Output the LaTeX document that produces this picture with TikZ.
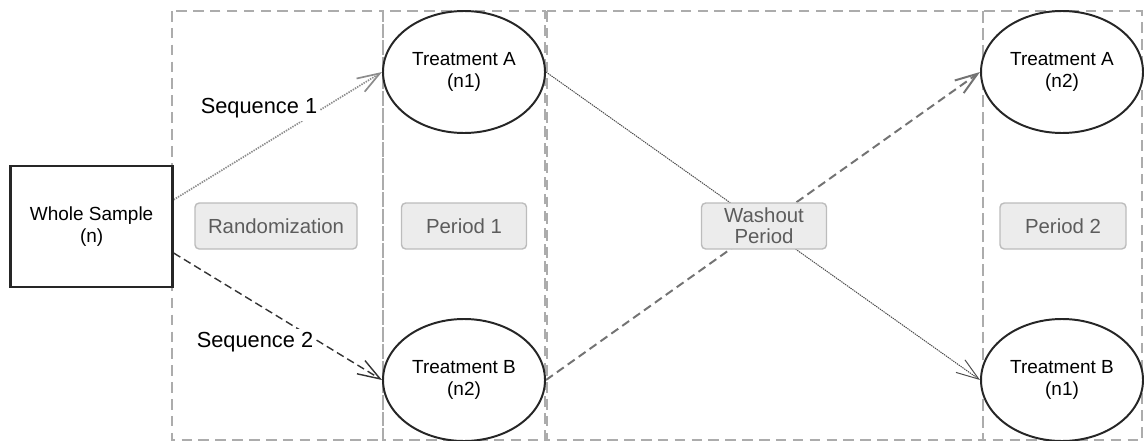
\documentclass[tikz,border=0pt]{standalone}
\usepackage{fontspec}
\setmainfont{Liberation Sans}
\usepackage{tikz}
\usetikzlibrary{positioning,backgrounds,arrows.meta,shapes.geometric}
\pgfdeclarelayer{background}
\pgfsetlayers{background,main}
\usepackage{xcolor}
\definecolor{lanegray}{RGB}{172,172,172}
\definecolor{tagfill}{RGB}{236,236,236}
\definecolor{tagdraw}{RGB}{188,188,188}
\definecolor{tagtext}{RGB}{92,92,92}

\begin{document}
\begin{tikzpicture}[
  every node/.style={font=\fontsize{13.5}{15.5}\selectfont},
  group/.style={draw=black!85, line width=1.6pt, fill=white,
    align=center, inner sep=2pt,
    minimum width=4.05cm, minimum height=3.02cm},
  treat/.style={ellipse, draw=black!85, line width=1.4pt, fill=white,
    align=center, inner sep=0pt,
    minimum width=4.05cm, minimum height=3.05cm},
  tag/.style={draw=tagdraw, fill=tagfill, line width=1pt,
    rounded corners=3pt, text=tagtext, align=center, inner sep=1pt,
    minimum width=3.125cm, minimum height=1.15cm,
    font=\fontsize{14.5}{15}\selectfont},
  seq/.style={fill=white, inner sep=2pt, font=\fontsize{15.5}{17}\selectfont},
  lane/.style={draw=lanegray, line width=1.4pt, dash pattern=on 7.5pt off 4.5pt},
  arr/.style={-{Straight Barb[length=16pt,width=11pt]}},
  seqdot/.style={draw=black!45, line width=1.2pt, dash pattern=on 1pt off 0.8pt},
  seqdash/.style={draw=black!80, line width=1pt, dash pattern=on 5.5pt off 3pt},
  crossdot/.style={draw=black!70, line width=0.7pt, dash pattern=on 1pt off 0.6pt},
  crossdash/.style={draw=black!55, line width=1.4pt, dash pattern=on 6pt off 3.5pt},
]
\useasboundingbox (0,0) rectangle (28.6,-11.025);

\node[group]  at ( 2.29, -5.66) (sample)  {Whole Sample\\(n)};

\node[tag, minimum width=4.05cm] at ( 6.9, -5.65) (rand) {Randomization};
\node[tag]    at (11.6,  -5.65) (per1)    {Period 1};
\node[tag]    at (19.1,  -5.65) (washout) {Washout\\Period};
\node[tag, minimum width=3.15cm] at (26.575, -5.65) (per2) {Period 2};

\node[treat]  at (11.6,  -1.8)  (trtAn1)  {Treatment A\\(n1)};
\node[treat]  at (11.6,  -9.5)  (trtBn2)  {Treatment B\\(n2)};
\node[treat]  at (26.55, -1.8)  (trtAn2)  {Treatment A\\(n2)};
\node[treat]  at (26.55, -9.5)  (trtBn1)  {Treatment B\\(n1)};

\node[seq]    at ( 6.475, -2.7)  (seqone) {Sequence 1};
\node[seq]    at ( 6.375, -8.55) (seqtwo) {Sequence 2};

\begin{pgfonlayer}{background}
% the four phase columns
\draw[lane] ( 4.30, -0.275) rectangle ( 9.575, -11.0);
\draw[lane] ( 9.575, -0.275) rectangle (13.625, -11.0);
\draw[lane] (13.675, -0.275) rectangle (24.575, -11.0);
\draw[lane] (24.575, -0.275) rectangle (28.55, -11.0);

\draw[arr, seqdot]    (sample.18)   -- (trtAn1.west);
\draw[arr, seqdash]   (sample.-18)  -- (trtBn2.west);
\draw[arr, crossdot]  (trtAn1.east) -- (trtBn1.west);
\draw[arr, crossdash] (trtBn2.east) -- (trtAn2.west);
\end{pgfonlayer}
\end{tikzpicture}
\end{document}
